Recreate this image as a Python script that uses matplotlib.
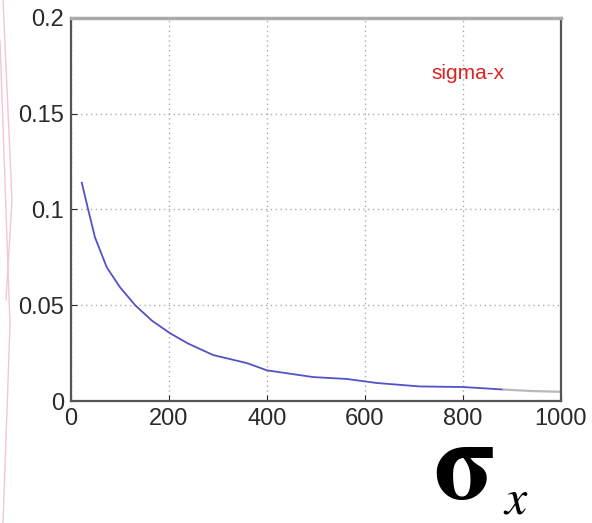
import matplotlib
matplotlib.use("Agg")
import matplotlib.pyplot as plt
from matplotlib.lines import Line2D

# values
xs = [22, 35, 49, 73, 100, 131, 165, 202, 239, 290, 359, 400, 494, 563, 624, 712, 800, 882]
ys = [0.114, 0.100, 0.0854, 0.0698, 0.0594, 0.050, 0.042, 0.0354, 0.030, 0.024, 0.0198, 0.0160, 0.0125, 0.0115, 0.0094, 0.0076, 0.0073, 0.0060]
tail_x = [882, 940, 1000]
tail_y = [0.0060, 0.0052, 0.0048]

xticks = [0, 200, 400, 600, 800, 1000]
yticks = [0, 0.05, 0.1, 0.15, 0.2]
ytick_labels = ["0", "0.05", "0.1", "0.15", "0.2"]

plt.rcParams['font.family'] = ['Liberation Sans', 'DejaVu Sans']

fig = plt.figure(figsize=(5.92, 5.23), dpi=100)
ax = fig.add_axes([71/592, 1 - 401/523, (561-71)/592, (401-18)/523])

ax.plot(xs, ys, color="#5252c8", lw=1.3)
ax.plot(tail_x, tail_y, color="#b8b8c0", lw=1.6)

ax.set_xlim(0, 1000)
ax.set_ylim(0, 0.2)
ax.set_xticks(xticks)
ax.set_yticks(yticks)
ax.set_yticklabels(ytick_labels)
ax.tick_params(direction="in", length=4, labelsize=17, colors="#2a2a2a", pad=5)
ax.grid(True, color="#aaaaaa", linestyle=(0, (1, 2.5)), lw=1)

for side in ["left", "right", "bottom"]:
    ax.spines[side].set_color("#555555")
    ax.spines[side].set_linewidth(1.6)
ax.spines["top"].set_color("#aaaaaa")
ax.spines["top"].set_linewidth(2.5)

ax.text(810, 0.171, "sigma-x", color="#dd2222", fontsize=15, ha="center", va="center")

# big label under the axes (mathtext keeps the box tight to the glyph)
fig.text(433/592, 1 - 498/523, r"$\mathbf{\sigma}$", fontsize=80,
         math_fontfamily="stix", ha="left", va="baseline")
fig.text(503/592, 1 - 514/523, r"$x$", fontsize=36,
         math_fontfamily="stix", ha="left", va="baseline")

# faint pink lines at the left edge
fig.add_artist(Line2D([3/592, 12/592, 6/592], [1, 1 - 200/523, 1 - 300/523],
                      transform=fig.transFigure, color="#f2c6d2", lw=1))
fig.add_artist(Line2D([0/592, 10/592, 3/592], [1 - 40/523, 1 - 325/523, 0],
                      transform=fig.transFigure, color="#f2c6d2", lw=1))

plt.savefig("out.png", dpi=100)
